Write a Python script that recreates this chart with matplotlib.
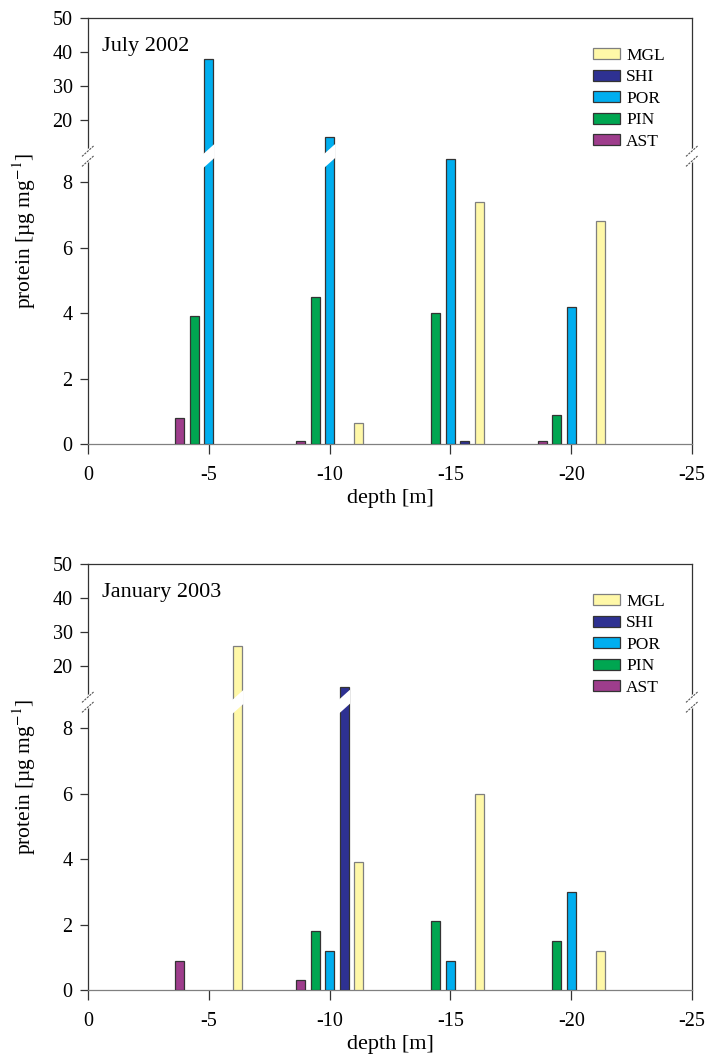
import matplotlib
matplotlib.use('Agg')
import matplotlib.pyplot as plt
import numpy as np
from matplotlib.patches import Polygon
from matplotlib.lines import Line2D
from matplotlib.transforms import IdentityTransform

plt.rcParams['font.family'] = ['Liberation Serif', 'DejaVu Serif']
plt.rcParams['mathtext.fontset'] = 'stix'
plt.rcParams['axes.unicode_minus'] = False

depths = [-5, -10, -15, -20]
series = ['AST', 'PIN', 'POR', 'SHI', 'MGL']
colors = {'AST': '#9E3D8C', 'PIN': '#00A651', 'POR': '#00AEEF',
          'SHI': '#2E3192', 'MGL': '#FFF8A8'}
edges = {'AST': '#333333', 'PIN': '#333333', 'POR': '#333333',
         'SHI': '#333333', 'MGL': '#7f7f7f'}

# July 2002 (nan = no bar)
jul_ast = [0.8, 0.1, np.nan, 0.1]
jul_pin = [3.9, 4.5, 4.0, 0.9]
jul_por = [38.0, 15.0, 8.7, 4.2]
jul_shi = [np.nan, np.nan, 0.08, np.nan]
jul_mgl = [np.nan, 0.63, 7.4, 6.8]

# January 2003
jan_ast = [0.9, 0.3, np.nan, np.nan]
jan_pin = [np.nan, 1.8, 2.1, 1.5]
jan_por = [np.nan, 1.2, 0.9, 3.0]
jan_shi = [np.nan, 13.8, np.nan, np.nan]
jan_mgl = [26.0, 3.9, 6.0, 1.2]

panels = [
    ('July 2002', [jul_ast, jul_pin, jul_por, jul_shi, jul_mgl]),
    ('January 2003', [jan_ast, jan_pin, jan_por, jan_shi, jan_mgl]),
]

W, H = 707, 1059
fig = plt.figure(figsize=(W / 100, H / 100), dpi=100)


def px_axes(l, t, r, b):
    return fig.add_axes([l / W, 1 - b / H, (r - l) / W, (b - t) / H])


def draw_break(ax_lo, tall_bars):
    yb = ax_lo.transAxes.transform((0, 1))[1]
    half, k = 7, 0.9
    spans = []
    for rect in tall_bars:
        xa = ax_lo.transData.transform((rect.get_x(), 0))[0]
        xb = ax_lo.transData.transform((rect.get_x() + rect.get_width(), 0))[0]
        spans.append((min(xa, xb) - 1.5, max(xa, xb) + 1.5, False))
    for fx in (0, 1):
        xs = ax_lo.transAxes.transform((fx, 0))[0]
        spans.append((xs - 6, xs + 6, True))
    for a, b, marks in spans:
        c = (a + b) / 2
        lo_a, lo_b = yb - half + k * (a - c), yb - half + k * (b - c)
        hi_a, hi_b = yb + half + k * (a - c), yb + half + k * (b - c)
        fig.add_artist(Polygon([(a, lo_a), (b, lo_b), (b, hi_b), (a, hi_a)],
                               closed=True, facecolor='white', edgecolor='none',
                               transform=IdentityTransform(), zorder=10))
        if marks:
            for ya, yb2 in ((lo_a + 2, lo_b + 2), (hi_a - 2, hi_b - 2)):
                fig.add_artist(Line2D([a, b], [ya, yb2], color='#555555', lw=0.8,
                                      ls=(0, (2, 1)), transform=IdentityTransform(),
                                      zorder=11))


boxes = [(18, 156, 444), (564, 702, 990)]
offset = 0.6
width = 0.37

for (title, values), (top, mid, bot) in zip(panels, boxes):
    ax_hi = px_axes(88, top, 692, mid)
    ax_lo = px_axes(88, mid, 692, bot)
    handles = {}
    tall = []
    for i, name in enumerate(series):
        xs = [d + (2 - i) * offset for d in depths]
        for ax in (ax_hi, ax_lo):
            bars = ax.bar(xs, values[i], width=width, color=colors[name],
                          edgecolor=edges[name], linewidth=0.9, zorder=3)
        handles[name] = bars
        for rect, v in zip(bars, values[i]):
            if not np.isnan(v) and v > 8.8:
                tall.append(rect)
    for ax in (ax_hi, ax_lo):
        ax.set_xlim(0, -25)
        for sp in ax.spines.values():
            sp.set_color('#333333')
            sp.set_linewidth(0.9)
        ax.tick_params(axis='both', labelsize=14.5, direction='out', length=6,
                       width=0.9, color='#333333', pad=5)
    ax_hi.set_ylim(9.5, 50)
    ax_hi.set_yticks([20, 30, 40, 50])
    ax_hi.spines['bottom'].set_visible(False)
    ax_hi.tick_params(axis='x', bottom=False, labelbottom=False)
    ax_lo.set_ylim(0, 8.8)
    ax_lo.set_yticks([0, 2, 4, 6, 8])
    ax_lo.spines['top'].set_visible(False)
    ax_lo.spines['bottom'].set_color('#808080')
    ax_lo.set_xticks([0, -5, -10, -15, -20, -25])
    ax_lo.set_xticklabels([str(t) for t in [0, -5, -10, -15, -20, -25]])
    ax_lo.tick_params(axis='x', length=7, pad=8.5)
    ax_lo.set_xlabel('depth [m]', fontsize=16, labelpad=3)

    ax_hi.text(0.023, 0.79, title, transform=ax_hi.transAxes, fontsize=16,
               ha='left', va='center')
    order = ['MGL', 'SHI', 'POR', 'PIN', 'AST']
    ax_hi.legend([handles[n] for n in order], order, loc='upper left',
                 bbox_to_anchor=(0.825, 0.835), frameon=False, fontsize=12.5,
                 handlelength=1.55, handleheight=0.58, handletextpad=0.35,
                 labelspacing=0.32, borderaxespad=0)

    yc = 1 - (top + bot) / 2 / H
    fig.text(24 / W, yc, 'protein [µg mg$^{-1}$]', rotation=90, fontsize=15.5,
             ha='center', va='center')

    draw_break(ax_lo, tall)

fig.savefig('out.png', dpi=100)
